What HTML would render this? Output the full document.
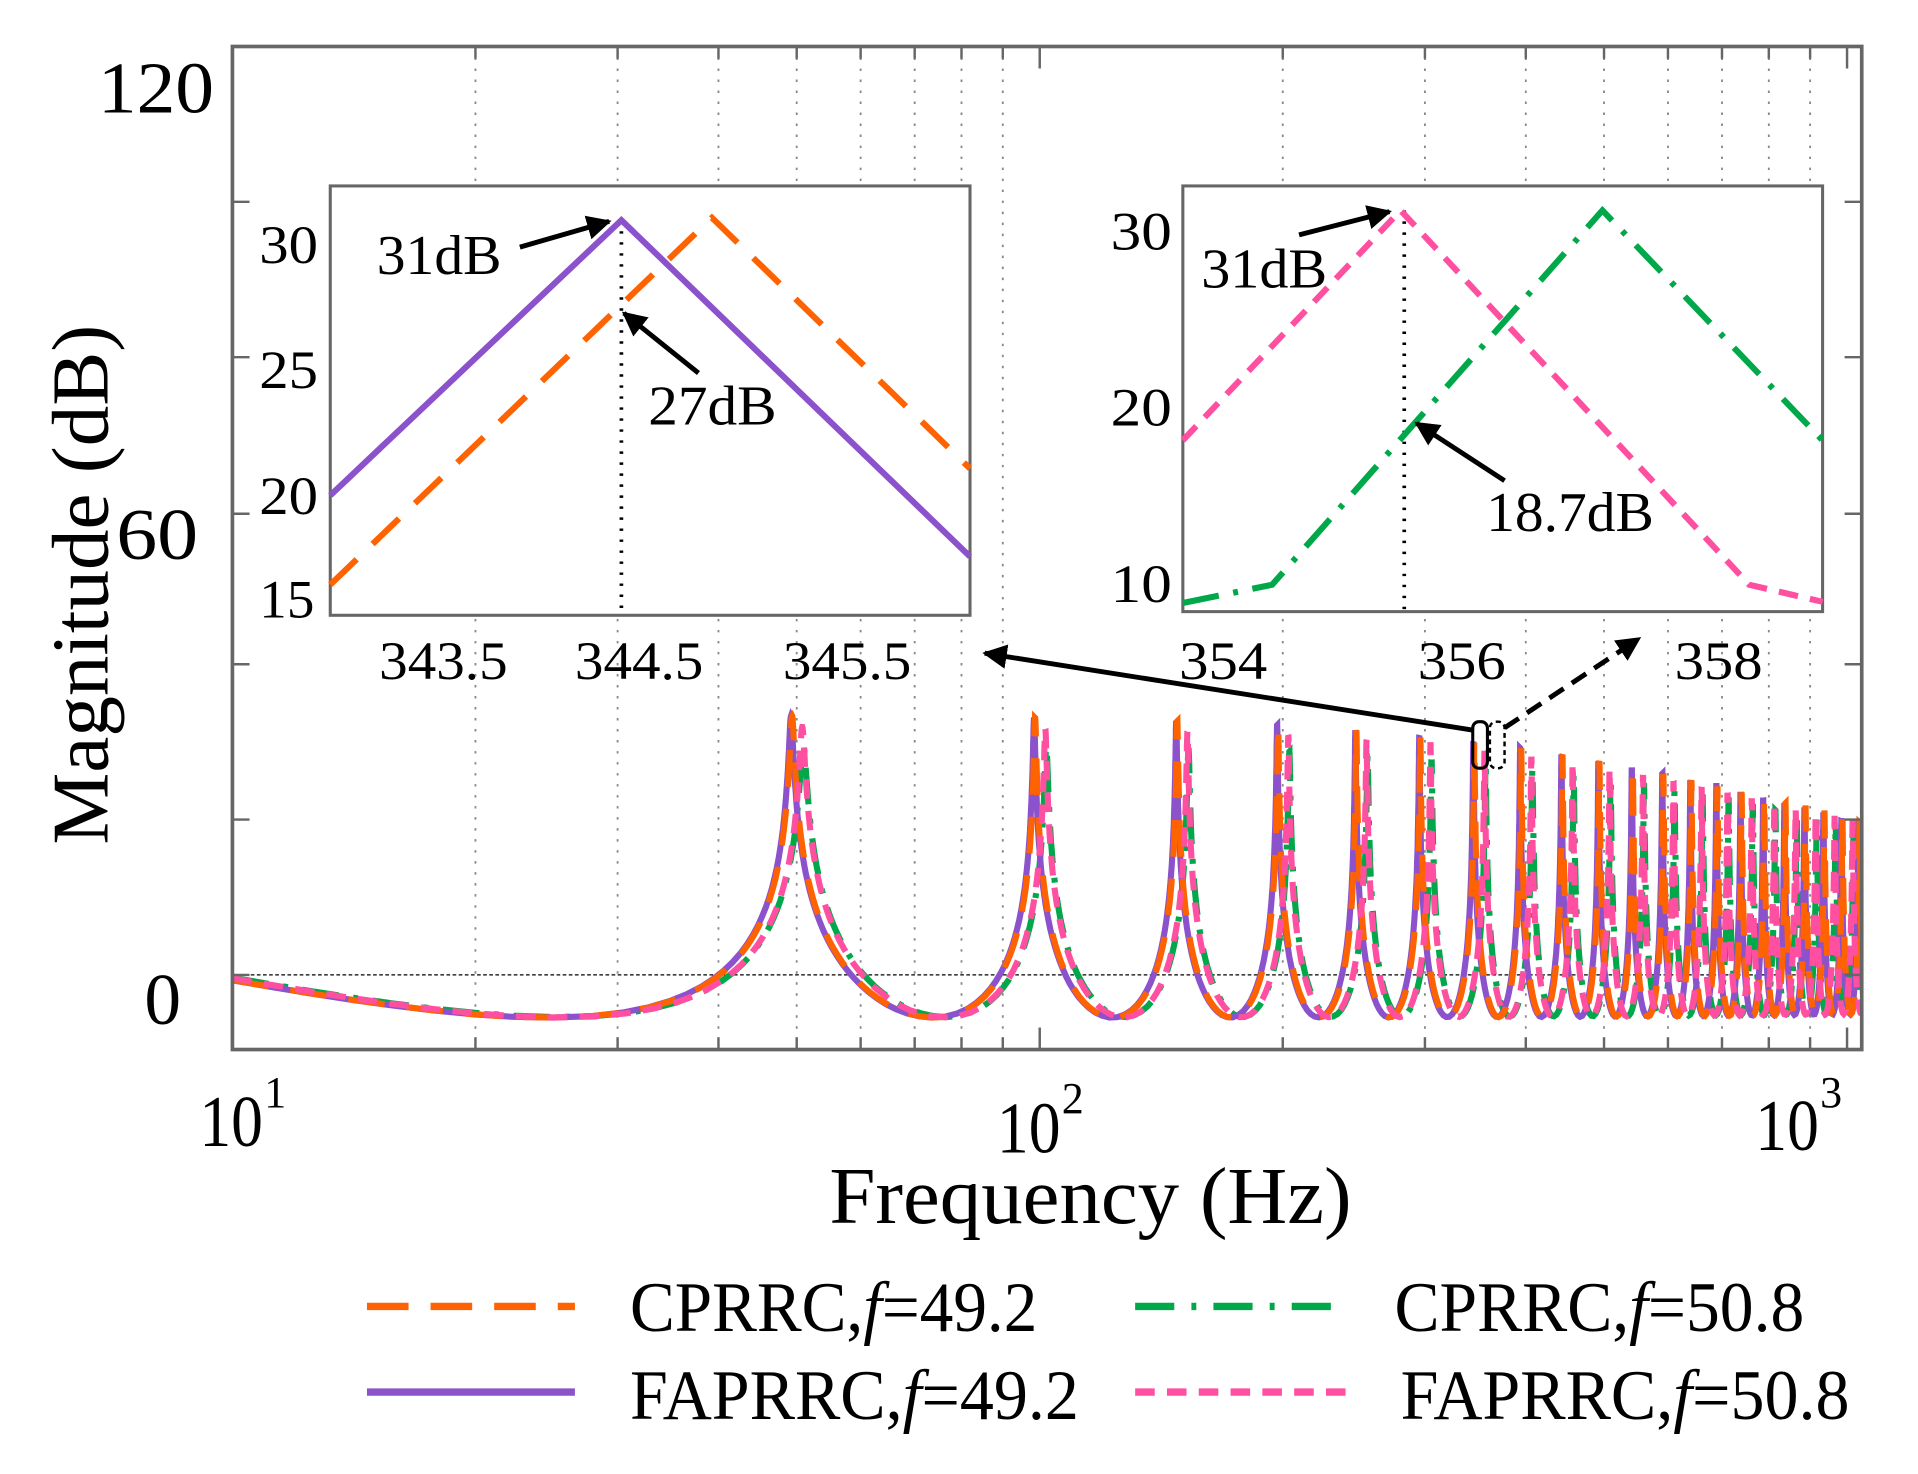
<!DOCTYPE html>
<html><head><meta charset="utf-8"><style>
html,body{margin:0;padding:0;background:#fff;}
svg{display:block;}
text{font-family:"Liberation Serif",serif;fill:#000;}
</style></head><body>
<svg id="s" width="1918" height="1474" viewBox="0 0 1568 1205" preserveAspectRatio="none" xmlns="http://www.w3.org/2000/svg">
<defs><clipPath id="pc"><rect x="190" y="38" width="1332" height="820"/></clipPath>
<marker id="ah" viewBox="0 0 10 10" refX="9" refY="5" markerWidth="5" markerHeight="5" orient="auto"><path d="M0,0 L10,5 L0,10 z" fill="#000"/></marker>
</defs>
<g id="grid" stroke="#888" stroke-width="1.5" stroke-dasharray="2,7"></g>
<line x1="190" y1="797" x2="1522" y2="797" stroke="#000" stroke-width="1" stroke-dasharray="3,2"/>
<g id="curves" clip-path="url(#pc)" fill="none"></g>
<rect x="190" y="38" width="1332" height="820" fill="none" stroke="#666" stroke-width="3"/>
<g id="ticks" stroke="#666" stroke-width="2"></g>
<g lengthAdjust="spacingAndGlyphs">
<text x="80" y="92" font-size="60" textLength="95" lengthAdjust="spacingAndGlyphs">120</text>
<text x="95" y="457" font-size="60" textLength="67" lengthAdjust="spacingAndGlyphs">60</text>
<text x="118" y="837" font-size="60">0</text>
<text x="163" y="937" font-size="60" textLength="52" lengthAdjust="spacingAndGlyphs">10</text><text x="216" y="905" font-size="36">1</text>
<text x="815" y="942" font-size="60" textLength="52" lengthAdjust="spacingAndGlyphs">10</text><text x="868" y="910" font-size="36">2</text>
<text x="1435" y="940" font-size="60" textLength="52" lengthAdjust="spacingAndGlyphs">10</text><text x="1488" y="905" font-size="36">3</text>
<text x="678" y="1000" font-size="66" textLength="427" lengthAdjust="spacingAndGlyphs">Frequency  (Hz)</text>
<text transform="translate(88,478) rotate(-90)" font-size="66" text-anchor="middle" textLength="425" lengthAdjust="spacingAndGlyphs">Magnitude (dB)</text>
</g>

<!-- left inset -->
<rect x="270" y="152" width="523" height="351" fill="#fff" stroke="#666" stroke-width="2.5"/>
<line x1="508" y1="180" x2="508" y2="503" stroke="#000" stroke-width="3" stroke-dasharray="2,7"/>
<polyline points="270,405 508,180 793,455" fill="none" stroke="#8B52CC" stroke-width="5"/>
<polyline points="270,478 582,178 793,383" fill="none" stroke="#FF6200" stroke-width="5" stroke-dasharray="30,18"/>
<text x="212" y="215" font-size="44" textLength="48" lengthAdjust="spacingAndGlyphs">30</text>
<text x="212" y="317" font-size="44" textLength="48" lengthAdjust="spacingAndGlyphs">25</text>
<text x="212" y="420" font-size="44" textLength="48" lengthAdjust="spacingAndGlyphs">20</text>
<text x="212" y="505" font-size="44" textLength="45" lengthAdjust="spacingAndGlyphs">15</text>
<text x="310" y="555" font-size="44" textLength="105" lengthAdjust="spacingAndGlyphs">343.5</text>
<text x="470" y="555" font-size="44" textLength="105" lengthAdjust="spacingAndGlyphs">344.5</text>
<text x="640" y="555" font-size="44" textLength="105" lengthAdjust="spacingAndGlyphs">345.5</text>
<text x="308" y="224" font-size="46" textLength="102" lengthAdjust="spacingAndGlyphs">31dB</text>
<line x1="425" y1="202" x2="498" y2="181" stroke="#000" stroke-width="4" marker-end="url(#ah)"/>
<text x="530" y="347" font-size="46" textLength="105" lengthAdjust="spacingAndGlyphs">27dB</text>
<line x1="571" y1="305" x2="510" y2="256" stroke="#000" stroke-width="4" marker-end="url(#ah)"/>

<!-- right inset -->
<rect x="967" y="152" width="523" height="348" fill="#fff" stroke="#666" stroke-width="2.5"/>
<line x1="1148" y1="172" x2="1148" y2="500" stroke="#000" stroke-width="3" stroke-dasharray="2,7"/>
<polyline points="967,360 1145,172 1430,478 1490,492" fill="none" stroke="#FF4FA0" stroke-width="5" stroke-dasharray="16,10"/>
<polyline points="967,493 1040,478 1310,172 1490,360" fill="none" stroke="#00A84A" stroke-width="5" stroke-dasharray="30,12,4,12"/>
<text x="908" y="204" font-size="44" textLength="50" lengthAdjust="spacingAndGlyphs">30</text>
<text x="908" y="348" font-size="44" textLength="50" lengthAdjust="spacingAndGlyphs">20</text>
<text x="908" y="492" font-size="44" textLength="50" lengthAdjust="spacingAndGlyphs">10</text>
<text x="964" y="555" font-size="44" textLength="72" lengthAdjust="spacingAndGlyphs">354</text>
<text x="1159" y="555" font-size="44" textLength="72" lengthAdjust="spacingAndGlyphs">356</text>
<text x="1369" y="555" font-size="44" textLength="72" lengthAdjust="spacingAndGlyphs">358</text>
<text x="982" y="235" font-size="46" textLength="103" lengthAdjust="spacingAndGlyphs">31dB</text>
<line x1="1062" y1="192" x2="1136" y2="173" stroke="#000" stroke-width="4" marker-end="url(#ah)"/>
<text x="1215" y="434" font-size="46" textLength="137" lengthAdjust="spacingAndGlyphs">18.7dB</text>
<line x1="1230" y1="393" x2="1158" y2="346" stroke="#000" stroke-width="4" marker-end="url(#ah)"/>

<!-- arrows -->
<line x1="1205" y1="597" x2="805" y2="534" stroke="#000" stroke-width="4" marker-end="url(#ah)"/>
<line x1="1230" y1="595" x2="1340" y2="522" stroke="#000" stroke-width="4" stroke-dasharray="14,8" marker-end="url(#ah)"/>
<rect x="1204" y="590" width="12" height="38" rx="5" fill="none" stroke="#000" stroke-width="2.5"/>
<rect x="1218" y="590" width="12" height="38" rx="5" fill="none" stroke="#000" stroke-width="2" stroke-dasharray="4,3"/>

<!-- legend -->
<line x1="300" y1="1068" x2="470" y2="1068" stroke="#FF6200" stroke-width="6" stroke-dasharray="34,18"/>
<line x1="300" y1="1138" x2="470" y2="1138" stroke="#8B52CC" stroke-width="6"/>
<line x1="928" y1="1068" x2="1095" y2="1068" stroke="#00A84A" stroke-width="6" stroke-dasharray="32,14,4,14"/>
<line x1="928" y1="1138" x2="1100" y2="1138" stroke="#FF4FA0" stroke-width="6" stroke-dasharray="16,10"/>
<text x="515" y="1088" font-size="58" textLength="333" lengthAdjust="spacingAndGlyphs">CPRRC,<tspan font-style="italic">f</tspan>=49.2</text>
<text x="515" y="1160" font-size="58" textLength="367" lengthAdjust="spacingAndGlyphs">FAPRRC,<tspan font-style="italic">f</tspan>=49.2</text>
<text x="1140" y="1088" font-size="58" textLength="335" lengthAdjust="spacingAndGlyphs">CPRRC,<tspan font-style="italic">f</tspan>=50.8</text>
<text x="1145" y="1160" font-size="58" textLength="367" lengthAdjust="spacingAndGlyphs">FAPRRC,<tspan font-style="italic">f</tspan>=50.8</text>
</svg>
<script>
(function(){
var NS="http://www.w3.org/2000/svg";
function X(f){return 190+660*Math.log10(f/10);}
var grid=document.getElementById('grid'),ticks=document.getElementById('ticks');
function el(p,t,a){var e=document.createElementNS(NS,t);for(var k in a)e.setAttribute(k,a[k]);p.appendChild(e);return e;}
[20,30,40,50,60,70,80,90,200,300,400,500,600,700,800,900].forEach(function(f){var x=X(f);
 el(grid,'line',{x1:x,y1:38,x2:x,y2:858});
 el(ticks,'line',{x1:x,y1:858,x2:x,y2:848});el(ticks,'line',{x1:x,y1:38,x2:x,y2:48});});
[100,1000].forEach(function(f){var x=X(f);el(ticks,'line',{x1:x,y1:858,x2:x,y2:840});el(ticks,'line',{x1:x,y1:38,x2:x,y2:56});});
[165,292,420,543,670,797].forEach(function(y){el(ticks,'line',{x1:190,y1:y,x2:204,y2:y});el(ticks,'line',{x1:1522,y1:y,x2:1508,y2:y});});
function mag(f,f0,q0,lp){var q=q0/Math.sqrt(1+Math.pow(f/lp,2));var th=2*Math.PI*f/f0;
 var re=1-q*Math.cos(th),im=q*Math.sin(th);return -10*Math.log10(re*re+im*im);}
function Y(d){return 832-(d+5.9)*6.8;}
var cv=document.getElementById('curves');
var series=[
 {f0:50.95,q:0.955,c:'#00A84A',d:'30,12,4,12'},
 {f0:49.2,q:0.97,c:'#8B52CC',d:''},
 {f0:49.35,q:0.97,c:'#FF6200',d:'30,18'},
 {f0:50.8,q:0.965,c:'#FF4FA0',d:'16,10'}];
series.forEach(function(s){var f=10,pts=[];
 while(f<1050){var n=Math.round(f/s.f0)*s.f0;var dd=Math.abs(f-n);
  pts.push(X(f).toFixed(1)+','+Y(mag(f,s.f0,s.q,2066)).toFixed(1));
  f+=0.02+0.12*dd;}
 var a={points:pts.join(' '),stroke:s.c,'stroke-width':5,fill:'none'};if(s.d)a['stroke-dasharray']=s.d;
 el(cv,'polyline',a);});
})();
</script>
</body></html>
